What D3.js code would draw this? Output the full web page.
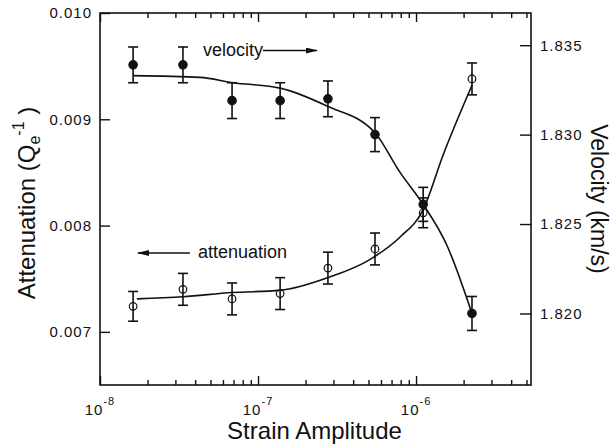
<!DOCTYPE html>
<html lang="en">
<head>
<meta charset="UTF-8">
<title>Attenuation and velocity vs strain amplitude</title>
<script src="https://d3js.org/d3.v7.min.js"></script>
<style>
  body { margin: 0; background: #fff; }
  svg text { font-family: "Liberation Sans", Arial, Helvetica, sans-serif; fill: #111; }
  .ticklab { font-size: 15px; letter-spacing: 1px; }
  .title { font-size: 24px; }
  .note { font-size: 18px; }
</style>
</head>
<body>
<div id="chart"></div>
<script>
var strain = [1.62e-8, 3.35e-8, 6.85e-8, 1.38e-7, 2.77e-7, 5.5e-7, 1.11e-6, 2.26e-6];
var attenuation = [0.00724, 0.00740, 0.00731, 0.00736, 0.00760, 0.00778, 0.00812, 0.00938];
var attenuationErr = [0.00014, 0.00015, 0.00015, 0.00015, 0.00015, 0.00015, 0.00014, 0.00015];
var velocity = [1.8339, 1.8339, 1.8319, 1.8319, 1.8320, 1.8300, 1.8261, 1.8200];
var velocityErr = [0.0010, 0.0010, 0.0010, 0.0010, 0.0010, 0.00095, 0.00095, 0.00095];

// fitted curves, sampled from the figure
var attFitStrain = [1.71e-8, 3.35e-8, 6.85e-8, 1.38e-7, 2.77e-7, 5.1e-7, 7.9e-7, 1.11e-6, 1.48e-6, 2.26e-6];
var attFit = [0.00731, 0.00733, 0.00737, 0.00739, 0.00751, 0.00768, 0.00789, 0.00815, 0.00866, 0.00932];
var velFitStrain = [1.62e-8, 4.3e-8, 6.95e-8, 1.38e-7, 2.73e-7, 5.5e-7, 7.9e-7, 1.11e-6, 1.57e-6, 2.26e-6];
var velFit = [1.8333, 1.8332, 1.8329, 1.8326, 1.8316, 1.8301, 1.8279, 1.8261, 1.8238, 1.8200];

// axis ticks
var attTicks = [0.007, 0.008, 0.009, 0.010];
var velTicks = [1.820, 1.825, 1.830, 1.835];
var strainMajor = [1e-8, 1e-7, 1e-6];
var strainExp = ["-8", "-7", "-6"];

const width = 614, height = 447;
const box = {left: 100, right: 531, top: 13, bottom: 385};

const svg = d3.select("#chart").append("svg")
    .attr("width", width)
    .attr("height", height);

const x = d3.scaleLog().domain([1e-8, 5.34e-6]).range([box.left, box.right]);
const yA = d3.scaleLinear().domain([0.0065, 0.0100]).range([box.bottom, box.top]);
const yV = d3.scaleLinear().domain([1.8160, 1.8368]).range([box.bottom, box.top]);

// minor log ticks (2..9 in each decade inside the domain)
var strainMinor = [];
strainMajor.forEach(function(d){
  for (var k = 2; k <= 9; k++) {
    var v = d * k;
    if (v < x.domain()[1]) strainMinor.push(v);
  }
});

function styleAxis(g){
  g.select(".domain").remove();
  g.selectAll(".tick line").attr("stroke", "#111").attr("stroke-width", 1.4);
  g.attr("font-family", null).attr("font-size", null);
}

// bottom: ticks point up into the plot
svg.append("g").attr("transform", `translate(0,${box.bottom})`)
   .call(d3.axisTop(x).tickValues(strainMajor).tickSize(9).tickFormat(""))
   .call(styleAxis);
svg.append("g").attr("transform", `translate(0,${box.bottom})`)
   .call(d3.axisTop(x).tickValues(strainMinor).tickSize(5).tickFormat(""))
   .call(styleAxis);
// top: mirrored, pointing down
svg.append("g").attr("transform", `translate(0,${box.top})`)
   .call(d3.axisBottom(x).tickValues(strainMajor).tickSize(9).tickFormat(""))
   .call(styleAxis);
svg.append("g").attr("transform", `translate(0,${box.top})`)
   .call(d3.axisBottom(x).tickValues(strainMinor).tickSize(5).tickFormat(""))
   .call(styleAxis);

// left attenuation axis
svg.append("g").attr("transform", `translate(${box.left},0)`)
   .call(d3.axisLeft(yA).tickValues(attTicks).tickSize(-10).tickPadding(8).tickFormat(d3.format(".3f")))
   .call(styleAxis)
   .selectAll("text").attr("class", "ticklab");

// right velocity axis
svg.append("g").attr("transform", `translate(${box.right},0)`)
   .call(d3.axisRight(yV).tickValues(velTicks).tickSize(-11).tickPadding(9).tickFormat(d3.format(".3f")))
   .call(styleAxis)
   .selectAll("text").attr("class", "ticklab");

// frame
svg.append("rect")
   .attr("x", box.left).attr("y", box.top)
   .attr("width", box.right - box.left).attr("height", box.bottom - box.top)
   .attr("fill", "none").attr("stroke", "#111").attr("stroke-width", 1.6);

// power-of-ten labels
var xl = svg.selectAll(".xlab").data(strainMajor).enter()
   .append("text")
   .attr("class", "ticklab xlab")
   .attr("x", function(d){ return x(d); })
   .attr("y", box.bottom + 30)
   .attr("text-anchor", "middle");
xl.append("tspan").text("10");
xl.append("tspan").attr("dy", -10).attr("font-size", "11px")
  .text(function(d, i){ return strainExp[i]; });

// titles
svg.append("text").attr("class", "title")
   .attr("x", (box.left + box.right) / 2 - 1).attr("y", 439)
   .attr("text-anchor", "middle")
   .text("Strain Amplitude");

var ta = svg.append("text").attr("class", "title")
   .attr("transform", `translate(35,${(box.top + box.bottom) / 2 + 4}) rotate(-90)`)
   .attr("text-anchor", "middle");
ta.append("tspan").text("Attenuation (Q");
ta.append("tspan").attr("font-size", "16px").attr("dy", 5).text("e");
ta.append("tspan").attr("font-size", "16px").attr("dy", -16).text("-1");
ta.append("tspan").attr("dy", 11).text(" )");

svg.append("text").attr("class", "title")
   .attr("transform", `translate(591,${(box.top + box.bottom) / 2}) rotate(90)`)
   .attr("text-anchor", "middle")
   .style("font-size", "23px")
   .text("Velocity (km/s)");

// fitted curves
const attLine = d3.line()
   .x(function(d, i){ return x(attFitStrain[i]); })
   .y(function(d){ return yA(d); })
   .curve(d3.curveMonotoneX);
const velLine = d3.line()
   .x(function(d, i){ return x(velFitStrain[i]); })
   .y(function(d){ return yV(d); })
   .curve(d3.curveMonotoneX);

svg.append("path").datum(attFit).attr("d", attLine)
   .attr("fill", "none").attr("stroke", "#111").attr("stroke-width", 1.6);
svg.append("path").datum(velFit).attr("d", velLine)
   .attr("fill", "none").attr("stroke", "#111").attr("stroke-width", 1.6);

// error bars + markers
function drawSeries(vals, errs, y, filled){
  var g = svg.append("g");
  var pts = g.selectAll("g").data(vals).enter().append("g");
  pts.append("line")
     .attr("x1", function(d, i){ return x(strain[i]); })
     .attr("x2", function(d, i){ return x(strain[i]); })
     .attr("y1", function(d, i){ return y(d - errs[i]); })
     .attr("y2", function(d, i){ return y(d + errs[i]); });
  [-1, 1].forEach(function(s){
    pts.append("line")
       .attr("x1", function(d, i){ return x(strain[i]) - 5; })
       .attr("x2", function(d, i){ return x(strain[i]) + 5; })
       .attr("y1", function(d, i){ return y(d + s * errs[i]); })
       .attr("y2", function(d, i){ return y(d + s * errs[i]); });
  });
  pts.selectAll("line").attr("stroke", "#111").attr("stroke-width", 1.6);
  pts.append("circle")
     .attr("cx", function(d, i){ return x(strain[i]); })
     .attr("cy", function(d){ return y(d); })
     .attr("r", filled ? 4.2 : 3.8)
     .attr("fill", filled ? "#111" : "none")
     .attr("stroke", "#111").attr("stroke-width", 1.2);
}
drawSeries(attenuation, attenuationErr, yA, false);
drawSeries(velocity, velocityErr, yV, true);

// arrow annotations
svg.append("defs").append("marker")
   .attr("id", "head")
   .attr("viewBox", "0 0 12 6")
   .attr("refX", 11).attr("refY", 3)
   .attr("markerWidth", 12).attr("markerHeight", 6)
   .attr("markerUnits", "userSpaceOnUse")
   .attr("orient", "auto")
   .append("path").attr("d", "M0,0L12,3L0,6Z").attr("fill", "#111");

svg.append("text").attr("class", "note")
   .attr("x", x(4.49e-8)).attr("y", yV(1.8347) + 5)
   .text("velocity");
svg.append("line")
   .attr("x1", x(1.076e-7)).attr("x2", x(2.36e-7))
   .attr("y1", yV(1.8347)).attr("y2", yV(1.8347))
   .attr("stroke", "#111").attr("stroke-width", 1.5)
   .attr("marker-end", "url(#head)");

svg.append("text").attr("class", "note")
   .attr("x", x(4.17e-8)).attr("y", yA(0.007742) + 5)
   .text("attenuation");
svg.append("line")
   .attr("x1", x(3.71e-8)).attr("x2", x(1.74e-8))
   .attr("y1", yA(0.007742)).attr("y2", yA(0.007742))
   .attr("stroke", "#111").attr("stroke-width", 1.5)
   .attr("marker-end", "url(#head)");
</script>
</body>
</html>
